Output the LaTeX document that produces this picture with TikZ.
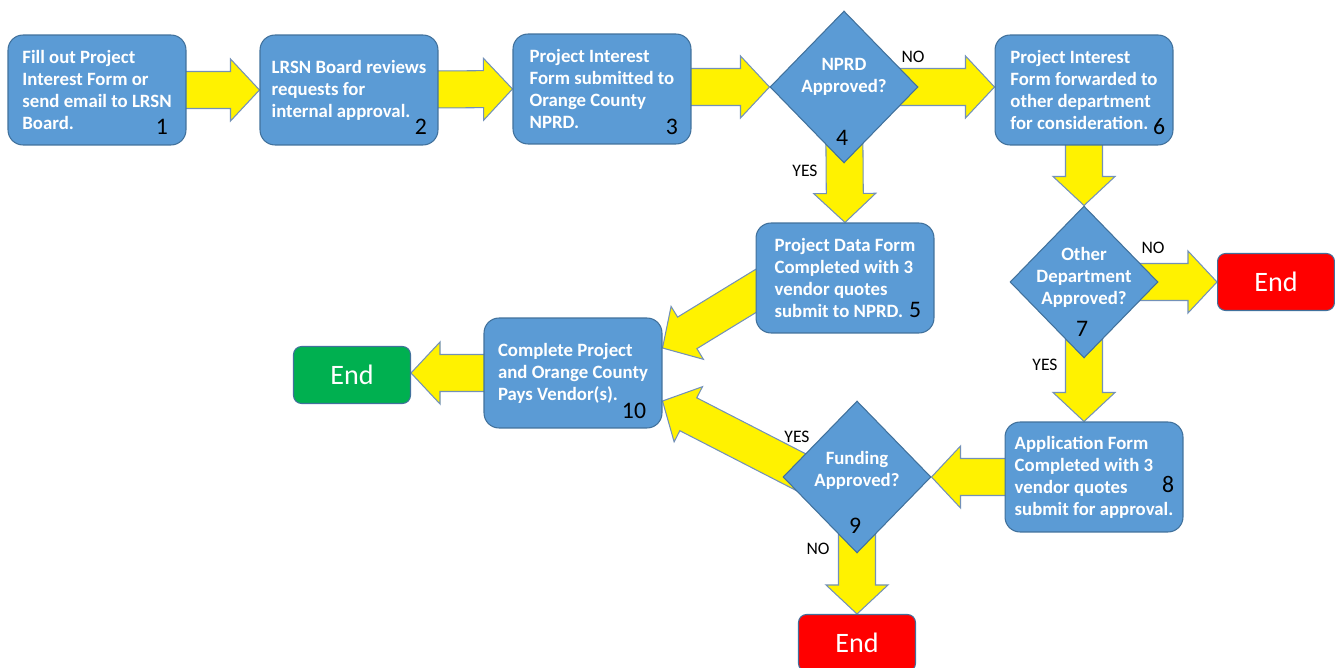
\documentclass[tikz,border=0pt]{standalone}
\usepackage{fontspec}
\setmainfont{Carlito}
\usetikzlibrary{shapes.geometric,calc}
\pgfdeclarelayer{background}
\pgfsetlayers{background,main}
\definecolor{boxblue}{HTML}{5B9BD5}
\definecolor{boxline}{HTML}{41719C}
\definecolor{arrowline}{HTML}{7391B8}
\definecolor{endred}{HTML}{FF0000}
\definecolor{endgreen}{HTML}{00B050}
\newcommand{\shafthalf}{0.37cm}
\newcommand{\headhalf}{0.62cm}
\newcommand{\headlen}{0.58cm}
\newcommand{\yellowarrow}[2]{%
  \path[blockarrow] let \p1=(#1), \p2=(#2), \n1={atan2(\y2-\y1,\x2-\x1)} in
    ($(\p1)+(\n1+90:\shafthalf)$) --
    ($(\p2)+(\n1+180:\headlen)+(\n1+90:\shafthalf)$) --
    ($(\p2)+(\n1+180:\headlen)+(\n1+90:\headhalf)$) --
    (\p2) --
    ($(\p2)+(\n1+180:\headlen)+(\n1-90:\headhalf)$) --
    ($(\p2)+(\n1+180:\headlen)+(\n1-90:\shafthalf)$) --
    ($(\p1)+(\n1-90:\shafthalf)$) -- cycle;}

\begin{document}
\begin{tikzpicture}[x=0.02cm, y=-0.02cm]
    \tikzstyle{every node}=[align = center]
    \tikzstyle{stepbox}=[draw=boxline, fill=boxblue, line width=0.6pt, rounded corners=0.3cm,
        minimum width=3.56cm, minimum height=2.2cm, align=left, text=white,
        font=\bfseries\fontsize{10.7}{12.5}\selectfont]
    \tikzstyle{decision}=[diamond, draw=boxline, fill=boxblue, line width=0.6pt,
        minimum width=2.96cm, minimum height=3.04cm, inner sep=0pt]
    \tikzstyle{question}=[text=white, font=\bfseries\fontsize{10.7}{12.5}\selectfont]
    \tikzstyle{endbox}=[draw=boxline, line width=0.6pt, rounded corners=0.16cm,
        minimum width=2.34cm, minimum height=1.14cm, text=white, font=\fontsize{16}{18}\selectfont]
    \tikzstyle{stepno}=[font=\fontsize{13.5}{14}\selectfont]
    \tikzstyle{branch}=[font=\fontsize{10}{11}\selectfont]
    \tikzstyle{blockarrow}=[fill=yellow, draw=arrowline, line width=0.6pt, line join=miter]

    \useasboundingbox (0,0) rectangle (1335,668);

    \node[stepbox] (step1) at (97,90) {Fill out Project\\Interest Form or\\send email to LRSN\\Board.};
    \node[stepbox] (step2) at (349,90) {LRSN Board reviews\\requests for\\internal approval.};
    \node[stepbox] (step3) at (602,89) {Project Interest\\Form submitted to\\Orange County\\NPRD.};
    \node[decision] (nprd) at (844,87) {};
    \node[question] (nprdq) at (844,77) {NPRD\\Approved?};
    \node[stepbox] (step6) at (1084,90) {Project Interest\\Form forwarded to\\other department\\for consideration.};
    \node[stepbox] (step5) at (845,278) {Project Data Form\\Completed with 3\\vendor quotes\\submit to NPRD.};
    \node[decision] (other) at (1084,282) {};
    \node[question] (otherq) at (1084,277) {Other\\Department\\Approved?};
    \node[endbox, fill=endred] (endOther) at (1276,282) {End};
    \node[stepbox] (step10) at (573,373) {Complete Project\\and Orange County\\Pays Vendor(s).};
    \node[endbox, fill=endgreen] (endDone) at (352,375) {End};
    \node[decision] (fund) at (857,477) {};
    \node[question] (fundq) at (857,470) {Funding\\Approved?};
    \node[stepbox] (step8) at (1094,477) {Application Form\\Completed with 3\\vendor quotes\\submit for approval.};
    \node[endbox, fill=endred] (endFund) at (857,643) {End};

    \node[stepno] (n1) at (162,127) {1};
    \node[stepno] (n2) at (421,127) {2};
    \node[stepno] (n3) at (672,127) {3};
    \node[stepno] (n4) at (842,138) {4};
    \node[stepno] (n5) at (915,310) {5};
    \node[stepno] (n6) at (1159,127) {6};
    \node[stepno] (n7) at (1082,329) {7};
    \node[stepno] (n8) at (1168,484) {8};
    \node[stepno] (n9) at (855,526) {9};
    \node[stepno] (n10) at (634,411) {10};

    \node[branch] (no4) at (913,57) {NO};
    \node[branch] (yes4) at (805,171) {YES};
    \node[branch] (no7) at (1153,248) {NO};
    \node[branch] (yes7) at (1045,365) {YES};
    \node[branch] (yes9) at (797,437) {YES};
    \node[branch] (no9) at (818,549) {NO};

    \begin{pgfonlayer}{background}
        \yellowarrow{step1}{step2.west}
        \yellowarrow{step2}{step3.west}
        \yellowarrow{nprd -| step3}{nprd.west}
        \yellowarrow{nprd}{nprd -| step6.west}
        \yellowarrow{nprd}{step5.north}
        \yellowarrow{step6}{other.north}
        \yellowarrow{other}{other -| endOther.west}
        \yellowarrow{other}{other |- step8.north}
        \yellowarrow{step8}{fund.east}
        \yellowarrow{fund}{endFund.north}
        \yellowarrow{$(fund)+(-35,6)$}{$(step10.east)+(0,28)$}
        \yellowarrow{$(step5.west)+(10,7)$}{$(step10.east)+(0,-25)$}
        \yellowarrow{step10}{step10 -| endDone.east}
    \end{pgfonlayer}
\end{tikzpicture}
\end{document}
